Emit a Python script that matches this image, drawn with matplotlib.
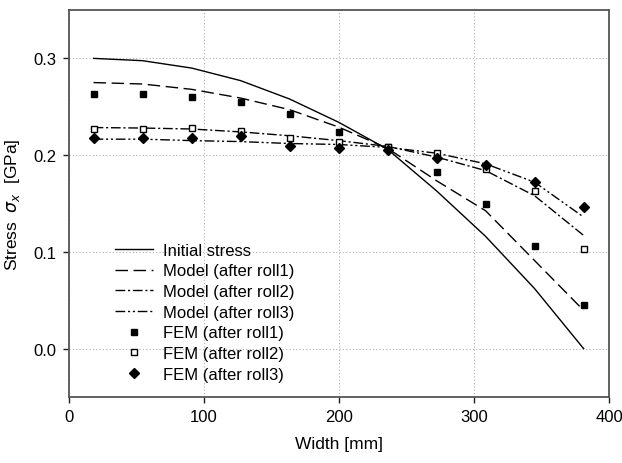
import numpy as np
import matplotlib.pyplot as plt

plt.rcParams['font.family'] = ['Liberation Sans', 'DejaVu Sans']

# posicoes ao longo da largura (mm)
largura = [18.2, 54.5, 90.8, 127.1, 163.4, 199.7, 236.0, 272.3, 308.6, 344.9, 381.2]

# tensao inicial e modelo apos cada passe (GPa)
inicial = [0.300, 0.2976, 0.290, 0.277, 0.258, 0.234, 0.206, 0.163, 0.116, 0.062, 0.000]
modelo1 = [0.275, 0.2735, 0.268, 0.259, 0.247, 0.229, 0.207, 0.1735, 0.1425, 0.091, 0.0395]
modelo2 = [0.2285, 0.228, 0.227, 0.224, 0.220, 0.215, 0.209, 0.198, 0.184, 0.158, 0.117]
modelo3 = [0.2165, 0.2165, 0.215, 0.214, 0.212, 0.211, 0.208, 0.202, 0.191, 0.172, 0.136]

# resultados FEM
fem1 = [0.263, 0.263, 0.2605, 0.255, 0.242, 0.2234, 0.208, 0.183, 0.1495, 0.106, 0.0454]
fem2 = [0.2268, 0.2268, 0.2278, 0.2247, 0.2172, 0.2137, 0.208, 0.202, 0.186, 0.163, 0.103]
fem3 = [0.2175, 0.2175, 0.218, 0.2196, 0.209, 0.207, 0.205, 0.197, 0.190, 0.172, 0.146]

fig = plt.figure(figsize=(6.22, 4.64), dpi=100)
ax = fig.add_axes([69/622, 1 - 398/464, 540/622, 387/464])

ax.plot(largura, inicial, color='black', lw=1.0, label='Initial stress')
ax.plot(largura, modelo1, color='black', lw=1.0, dashes=(9, 4), label='Model (after roll1)')
ax.plot(largura, modelo2, color='black', lw=1.0, dashes=(7, 2, 1.5, 2), label='Model (after roll2)')
ax.plot(largura, modelo3, color='black', lw=1.0, dashes=(7, 2, 1.5, 2, 1.5, 2), label='Model (after roll3)')

ax.plot(largura, fem1, ls='none', marker='s', ms=5, mfc='black', mec='black', label='FEM (after roll1)')
ax.plot(largura, fem2, ls='none', marker='s', ms=5, mfc='white', mec='black', mew=1.0, label='FEM (after roll2)')
ax.plot(largura, fem3, ls='none', marker='D', ms=5.5, mfc='black', mec='black', label='FEM (after roll3)')

ax.set_xlim(0, 400)
ax.set_ylim(-0.05, 0.35)
ax.set_xticks([0, 100, 200, 300, 400])
ax.set_yticks([0.0, 0.1, 0.2, 0.3])
ax.set_yticklabels(['0.0', '0.1', '0.2', '0.3'])

#grade pontilhada
ax.grid(True, linestyle=(0, (1, 2)), color='#b0b0b0', lw=0.8)
ax.set_axisbelow(True)

for lado in ['top', 'right', 'left', 'bottom']:
    ax.spines[lado].set_color('#555555')
    ax.spines[lado].set_linewidth(1.3)
ax.tick_params(direction='out', length=4, width=1.0, color='#222222', labelsize=12, pad=5)

ax.set_xlabel('Width [mm]', fontsize=12.5, labelpad=8)
ax.set_ylabel(r'Stress  $\sigma_x$  [GPa]', fontsize=12.5, labelpad=8)

ax.legend(loc='lower left', bbox_to_anchor=(0.07, 0.018), frameon=False, fontsize=12,
          handlelength=2.3, labelspacing=0.34, handletextpad=0.6, borderpad=0,
          markerscale=0.9)

plt.savefig('out.png', dpi=100)
